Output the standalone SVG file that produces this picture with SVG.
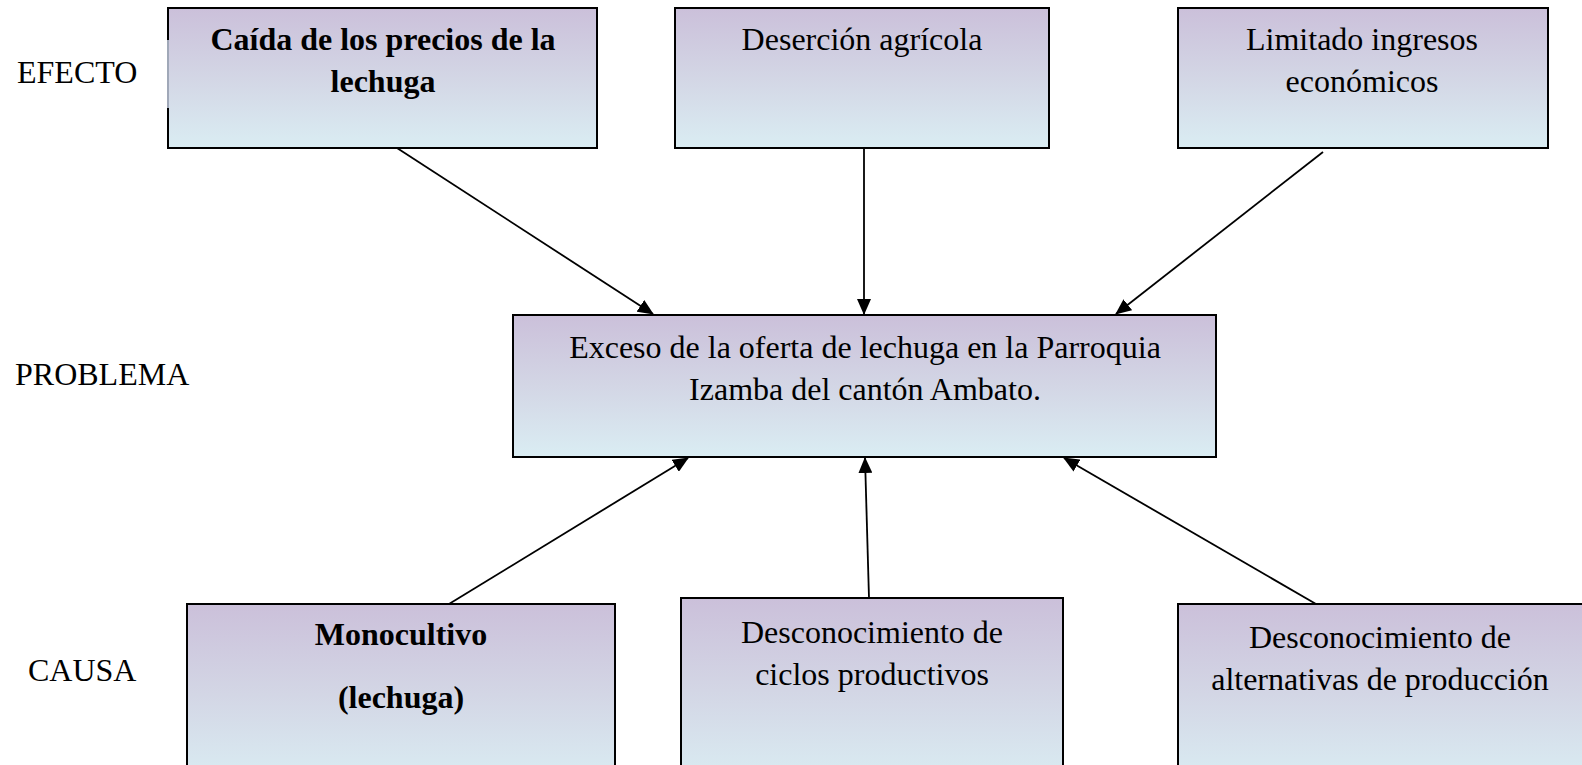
<svg xmlns="http://www.w3.org/2000/svg" width="1582" height="765" viewBox="0 0 1582 765">
<defs>
<linearGradient id="g" x1="0" y1="0" x2="0" y2="1">
<stop offset="0" stop-color="#cbc0da"/>
<stop offset="0.5" stop-color="#d3d6e5"/>
<stop offset="1" stop-color="#daedf3"/>
</linearGradient>
<marker id="ah" markerWidth="16" markerHeight="14" refX="15" refY="7" orient="auto" markerUnits="userSpaceOnUse" viewBox="0 0 16 14">
<path d="M0,0 L16,7 L0,14 z" fill="#000"/>
</marker>
<style>
.box{fill:url(#g);stroke:#000;stroke-width:2}
.t{font-family:"Liberation Serif","Times New Roman",serif;font-size:32px;fill:#000;text-anchor:middle}
.b{font-weight:bold}
.lbl{font-family:"Liberation Serif","Times New Roman",serif;font-size:32px;fill:#000}
.c{stroke:#000;stroke-width:1.8;fill:none;marker-end:url(#ah)}
</style>
</defs>
<rect width="1582" height="765" fill="#fff"/>
<g id="labels">
<text class="lbl" x="17" y="83">EFECTO</text>
<text class="lbl" x="15" y="385">PROBLEMA</text>
<text class="lbl" x="28" y="681">CAUSA</text>
</g>
<g id="connectors">
<line class="c" x1="397" y1="148" x2="653" y2="314"/>
<line class="c" x1="864" y1="148" x2="864" y2="314"/>
<line class="c" x1="1323" y1="152" x2="1116" y2="314"/>
<line class="c" x1="449" y1="604" x2="688" y2="458"/>
<line class="c" x1="869" y1="598" x2="865" y2="458"/>
<line class="c" x1="1316" y1="604" x2="1064" y2="458"/>
</g>
<g id="efecto1">
<rect class="box" x="168" y="8" width="429" height="140"/>
<line x1="168" y1="40" x2="168" y2="108" stroke="#a0a8b8" stroke-width="2"/>
<text class="t b" x="383" y="50">Caída de los precios de la</text>
<text class="t b" x="383" y="92">lechuga</text>
</g>
<g id="efecto2">
<rect class="box" x="675" y="8" width="374" height="140"/>
<text class="t" x="862" y="50">Deserción agrícola</text>
</g>
<g id="efecto3">
<rect class="box" x="1178" y="8" width="370" height="140"/>
<text class="t" x="1362" y="50">Limitado ingresos</text>
<text class="t" x="1362" y="92">económicos</text>
</g>
<g id="problema">
<rect class="box" x="513" y="315" width="703" height="142"/>
<text class="t" x="865" y="358">Exceso de la oferta de lechuga en la Parroquia</text>
<text class="t" x="865" y="400">Izamba del cantón Ambato.</text>
</g>
<g id="causa1">
<rect class="box" x="187" y="604" width="428" height="180"/>
<text class="t b" x="401" y="645">Monocultivo</text>
<text class="t b" x="401" y="708">(lechuga)</text>
</g>
<g id="causa2">
<rect class="box" x="681" y="598" width="382" height="186"/>
<text class="t" x="872" y="643">Desconocimiento de</text>
<text class="t" x="872" y="685">ciclos productivos</text>
</g>
<g id="causa3">
<rect class="box" x="1178" y="604" width="420" height="180"/>
<text class="t" x="1380" y="648">Desconocimiento de</text>
<text class="t" x="1380" y="690">alternativas de producción</text>
</g>
</svg>
